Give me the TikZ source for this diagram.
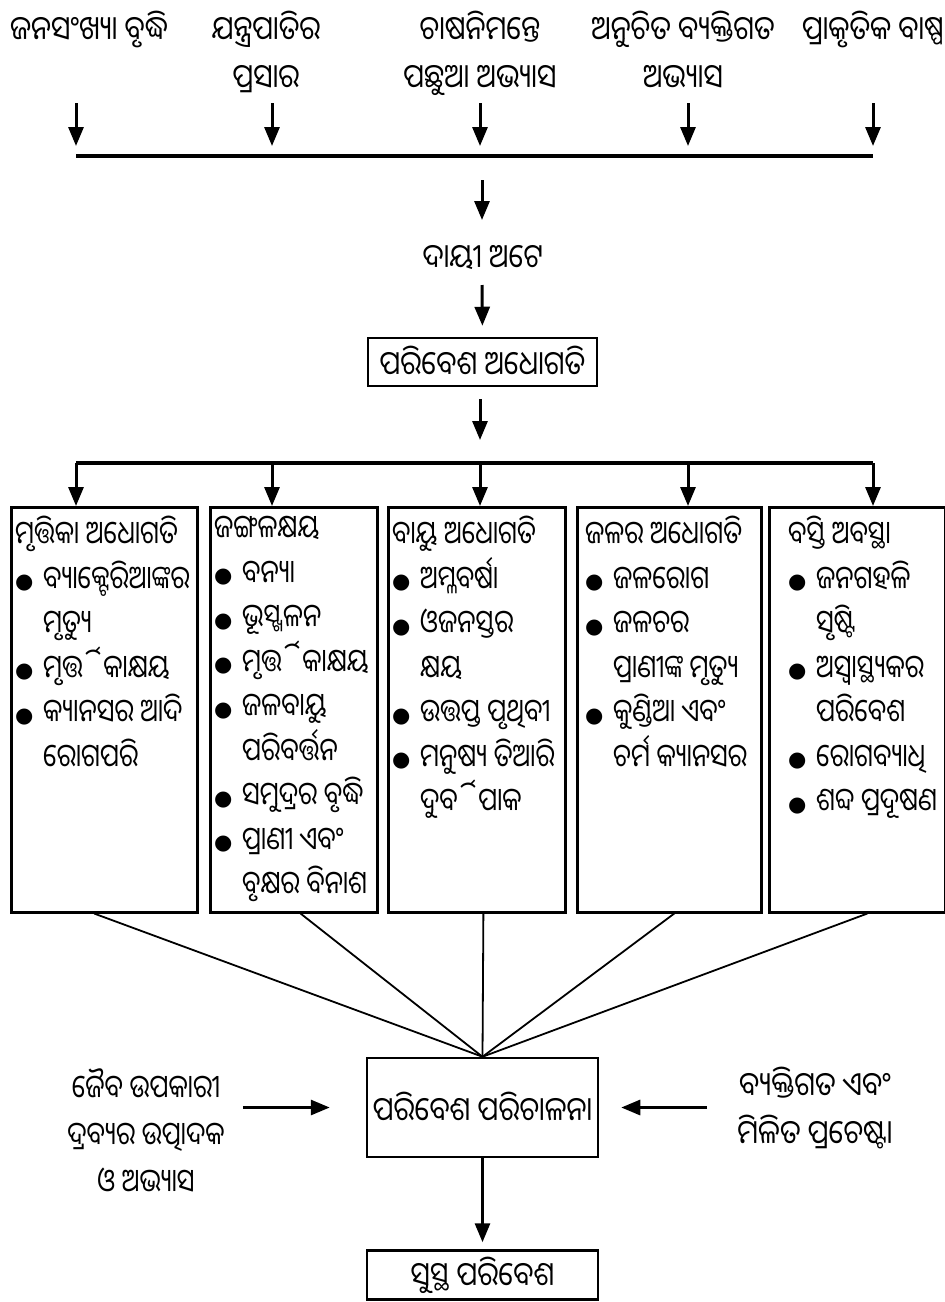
\documentclass[tikz,border=0pt]{standalone}
\usepackage{fontspec}
\newfontfamily\odia[Script=Oriya,FakeStretch=0.8]{Noto Sans Oriya UI}
\newfontfamily\odiaw[Script=Oriya,FakeStretch=0.85]{Noto Sans Oriya UI}
\newfontfamily\dejavu{DejaVu Sans}
\usetikzlibrary{arrows.meta,calc}
\newcommand{\bl}{\makebox[28pt][l]{\raisebox{2.5pt}{\dejavu\fontsize{21}{21}\selectfont ●}}}
\newcommand{\cn}{\hspace*{28pt}}
\begin{document}
\begin{tikzpicture}[x=1pt,y=-1pt,
  lab/.style={font=\odiaw\fontsize{33}{48}\selectfont, inner sep=0pt, align=center},
  sidelab/.style={font=\odia\fontsize{32}{47}\selectfont, inner sep=0pt, align=center},
  boxtxt/.style={font=\odia\fontsize{32}{44.5}\selectfont, inner sep=0pt, align=left, anchor=north west},
  arr/.style={-{Triangle[length=19pt,width=15pt]}, line width=3pt},
  bar/.style={line width=3.5pt},
  frame/.style={draw, line width=2.5pt, inner sep=0pt, font=\odiaw\fontsize{33}{30}\selectfont},
  conv/.style={line width=1.8pt},
  ]
\useasboundingbox (0,0) rectangle (945,1302);
% top causes
\node[lab, anchor=north] (c1) at (89,11) {ଜନସଂଖ୍ୟା ବୃଦ୍ଧି};
\node[lab, anchor=north] (c2) at (266,11) {ଯନ୍ତ୍ରପାତିର\\ପ୍ରସାର};
\node[lab, anchor=north] (c3) at (480,11) {ଚାଷନିମନ୍ତେ\\ପଛୁଆ ଅଭ୍ୟାସ};
\node[lab, anchor=north] (c4) at (683,11) {ଅନୁଚିତ ବ୍ୟକ୍ତିଗତ\\ଅଭ୍ୟାସ};
\node[lab, anchor=north east] (c5) at (944,11) {ପ୍ରାକୃତିକ ବାଷ୍ପ};
\foreach \i/\x in {1/76,2/272,3/480,4/688,5/873}{
  \coordinate (ta\i) at (\x,103);
  \coordinate (tb\i) at (\x,146);
  \draw[arr] (ta\i) -- (tb\i);
}
\coordinate (bl1) at (76,156);
\coordinate (br1) at (873,156);
\draw[bar] (bl1) -- (br1);
% middle chain
\coordinate (m1) at (482,180);
\coordinate (m2) at (482,220);
\draw[arr] (m1) -- (m2);
\node[lab] (dayi) at (483,258) {ଦାୟୀ ଅଟେ};
\coordinate (m3) at (482,285);
\node[frame, minimum width=229pt, minimum height=48pt] (deg) at (482.5,362) {ପରିବେଶ ଅଧୋଗତି};
\draw[arr, shorten >=11pt] (m3) -- (deg.north);
\coordinate (m4) at (480,440);
\draw[arr, shorten <=12pt] (deg.south -| m4) -- (m4);
\coordinate (bl2) at (76,463);
\coordinate (br2) at (873,463);
\draw[bar] (bl2) -- (br2);
% boxes
\node[frame, anchor=north west, minimum width=186pt, minimum height=405pt] (b1) at (10,506) {};
\node[frame, anchor=north west, minimum width=167pt, minimum height=405pt] (b2) at (209,506) {};
\node[frame, anchor=north west, minimum width=177pt, minimum height=405pt] (b3) at (387,506) {};
\node[frame, anchor=north west, minimum width=184pt, minimum height=405pt] (b4) at (576,506) {};
\node[frame, anchor=north west, minimum width=176pt, minimum height=405pt] (b5) at (768,506) {};
\foreach \i/\x in {1/76,2/272,3/480,4/688,5/873}{
  \coordinate (d\i) at (\x,463);
  \draw[arr] (d\i) -- (d\i |- b\i.north);
}
\node[boxtxt] (x1) at ($(b1.north west)+(5,10)$) {ମୃତ୍ତିକା ଅଧୋଗତି\\ \bl ବ୍ୟାକ୍ଟେରିଆଙ୍କର\\ \cn ମୃତ୍ୟୁ\\ \bl ମୃର୍ତ୍ତିକାକ୍ଷୟ\\ \bl କ୍ୟାନସର ଆଦି\\ \cn ରୋଗପରି};
\node[boxtxt] (x2) at ($(b2.north west)+(5,10)$) {ଜଙ୍ଗଳକ୍ଷୟ\\ \bl ବନ୍ୟା\\ \bl ଭୂସ୍ଖଳନ\\ \bl ମୃର୍ତ୍ତିକାକ୍ଷୟ\\ \bl ଜଳବାୟୁ\\ \cn ପରିବର୍ତ୍ତନ\\ \bl ସମୁଦ୍ରର ବୃଦ୍ଧି\\ \bl ପ୍ରାଣୀ ଏବଂ\\ \cn ବୃକ୍ଷର ବିନାଶ};
\node[boxtxt] (x3) at ($(b3.north west)+(5,10)$) {ବାୟୁ ଅଧୋଗତି\\ \bl ଅମ୍ଳବର୍ଷା\\ \bl ଓଜନସ୍ତର\\ \cn କ୍ଷୟ\\ \bl ଉତ୍ତପ୍ତ ପୃଥିବୀ\\ \bl ମନୁଷ୍ୟ ତିଆରି\\ \cn ଦୁର୍ବିପାକ};
\node[boxtxt] (x4) at ($(b4.north west)+(9,10)$) {ଜଳର ଅଧୋଗତି\\ \bl ଜଳରୋଗ\\ \bl ଜଳଚର\\ \cn ପ୍ରାଣୀଙ୍କ ମୃତ୍ୟୁ\\ \bl କୁଣ୍ଡିଆ ଏବଂ\\ \cn ଚର୍ମ କ୍ୟାନସର};
\node[boxtxt] (x5) at ($(b5.north west)+(20,10)$) {ବସ୍ତି ଅବସ୍ଥା\\ \bl ଜନଗହଳି\\ \cn ସୃଷ୍ଟି\\ \bl ଅସ୍ୱାସ୍ଥ୍ୟକର\\ \cn ପରିବେଶ\\ \bl ରୋଗବ୍ୟାଧି\\ \bl ଶବ୍ଦ ପ୍ରଦୂଷଣ};
% management
\node[frame, minimum width=231pt, minimum height=99pt] (mg) at (482.5,1107.5) {ପରିବେଶ ପରିଚାଳନା};
\foreach \i/\f in {1/0.446,2/0.54,3/0.537,4/0.527,5/0.557}{
  \draw[conv] ($(b\i.south west)!\f!(b\i.south east)$) -- (mg.north);
}
\node[sidelab] (lt) at (146,1132) {ଜୈବ ଉପକାରୀ\\ଦ୍ରବ୍ୟର ଉତ୍ପାଦକ\\ଓ ଅଭ୍ୟାସ};
\node[lab] (rt) at (815,1108) {ବ୍ୟକ୍ତିଗତ ଏବଂ\\ମିଳିତ ପ୍ରଚେଷ୍ଟା};
\draw[arr, shorten <=18pt, shorten >=36pt] (lt.east |- mg.center) -- (mg.west);
\draw[arr, shorten <=30pt, shorten >=22pt] (rt.west |- mg.center) -- (mg.east);
\node[frame, minimum width=231pt, minimum height=49pt] (fin) at (482.5,1275) {ସୁସ୍ଥ ପରିବେଶ};
\draw[arr, shorten >=7pt] (mg.south) -- (fin.north);
\end{tikzpicture}
\end{document}
